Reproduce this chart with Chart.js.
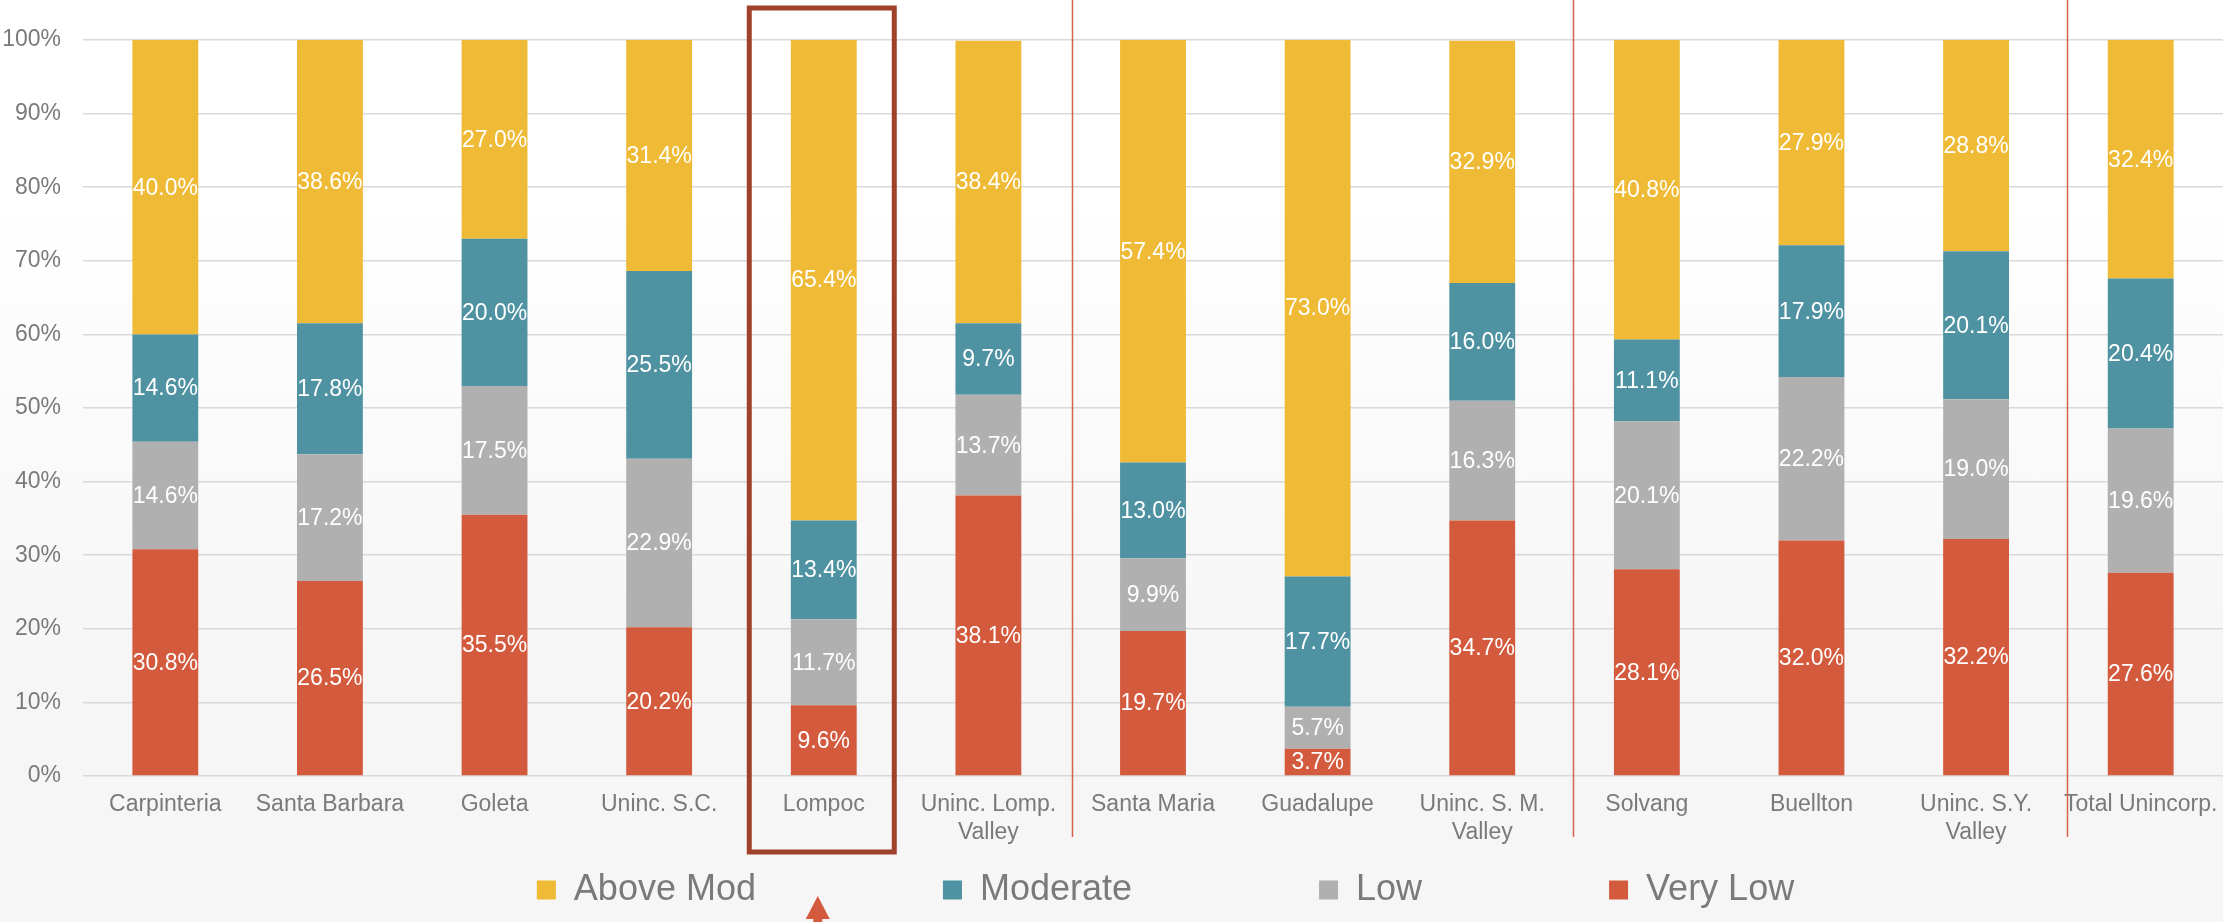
<!DOCTYPE html>
<html lang="en">
<head>
  <meta charset="UTF-8">
  <title>Housing Need by Income Category</title>
  <script src="https://cdn.jsdelivr.net/npm/chart.js@4.4.1/dist/chart.umd.min.js"></script>
  <style>
    html, body { margin: 0; padding: 0; }
    body {
      width: 2223px; height: 922px; overflow: hidden;
      background: linear-gradient(#ffffff 0%, #ffffff 22%, #f6f6f6 70%, #f6f6f6 100%);
    }
    #wrap { position: relative; width: 2223px; height: 922px; }
  </style>
</head>
<body>
  <div id="wrap"><canvas id="rhnaChart"></canvas></div>
  <script>
    // jurisdictions, left to right
    const categories = [
      'Carpinteria', 'Santa Barbara', 'Goleta', 'Uninc. S.C.', 'Lompoc',
      ['Uninc. Lomp.', 'Valley'], 'Santa Maria', 'Guadalupe', ['Uninc. S. M.', 'Valley'],
      'Solvang', 'Buellton', ['Uninc. S.Y.', 'Valley'], 'Total Unincorp.'
    ];

    // share of units per income level (%)
    const veryLow   = [30.8, 26.5, 35.5, 20.2,  9.6, 38.1, 19.7,  3.7, 34.7, 28.1, 32.0, 32.2, 27.6];
    const low       = [14.6, 17.2, 17.5, 22.9, 11.7, 13.7,  9.9,  5.7, 16.3, 20.1, 22.2, 19.0, 19.6];
    const moderate  = [14.6, 17.8, 20.0, 25.5, 13.4,  9.7, 13.0, 17.7, 16.0, 11.1, 17.9, 20.1, 20.4];
    const aboveMod  = [40.0, 38.6, 27.0, 31.4, 65.4, 38.4, 57.4, 73.0, 32.9, 40.8, 27.9, 28.8, 32.4];

    const yTicks = [0, 10, 20, 30, 40, 50, 60, 70, 80, 90, 100];

    // region separators (in category units on the x axis), highlighted jurisdiction
    const regionBreaks = [5.51, 8.55, 11.55];
    const highlighted = 4;

    const FONT = '"Liberation Sans", Arial, sans-serif';
    const GREY = '#7a7a7a';

    // white value labels in the middle of every segment
    const segmentLabels = {
      id: 'segmentLabels',
      afterDatasetsDraw(chart) {
        const ctx = chart.ctx;
        ctx.save();
        ctx.font = '23px ' + FONT;
        ctx.fillStyle = '#ffffff';
        ctx.textAlign = 'center';
        ctx.textBaseline = 'middle';
        chart.data.datasets.forEach((ds, i) => {
          chart.getDatasetMeta(i).data.forEach((bar, j) => {
            const p = bar.getProps(['x', 'y', 'base'], true);
            ctx.fillText(ds.data[j].toFixed(1) + '%', p.x, (p.y + p.base) / 2 + 1);
          });
        });
        ctx.restore();
      }
    };

    // region separators, the box round Lompoc and the arrow under it
    const callouts = {
      id: 'callouts',
      afterLayout(chart) {
        // nudge the legend row to where it sits in the original
        chart.legend.left += 54;
        chart.legend.right += 54;
      },
      afterDraw(chart) {
        const ctx = chart.ctx;
        const x = chart.scales.x;
        const area = chart.chartArea;
        ctx.save();

        ctx.strokeStyle = '#d8624a';
        ctx.lineWidth = 1.5;
        regionBreaks.forEach(v => {
          const px = Math.round(x.getPixelForValue(v)) + 0.5;
          ctx.beginPath();
          ctx.moveTo(px, 0);
          ctx.lineTo(px, area.bottom + 61);
          ctx.stroke();
        });

        const cx = x.getPixelForValue(highlighted) - 2;
        ctx.strokeStyle = '#a0412b';
        ctx.lineWidth = 5;
        ctx.strokeRect(cx - 72.5, 8, 145, area.bottom + 76 - 8);

        const ax = cx - 4;
        const tipY = area.bottom + 120;
        ctx.fillStyle = '#d35a3d';
        ctx.beginPath();
        ctx.moveTo(ax, tipY);
        ctx.lineTo(ax + 12, tipY + 23);
        ctx.lineTo(ax + 4.5, tipY + 23);
        ctx.lineTo(ax + 4.5, chart.height);
        ctx.lineTo(ax - 4.5, chart.height);
        ctx.lineTo(ax - 4.5, tipY + 23);
        ctx.lineTo(ax - 12, tipY + 23);
        ctx.closePath();
        ctx.fill();
        ctx.restore();
      }
    };

    const ctx = document.getElementById('rhnaChart').getContext('2d');
    new Chart(ctx, {
      type: 'bar',
      data: {
        labels: categories,
        datasets: [
          { label: 'Very Low',  data: veryLow,  backgroundColor: '#d35a3d' },
          { label: 'Low',       data: low,      backgroundColor: '#b0b0b0' },
          { label: 'Moderate',  data: moderate, backgroundColor: '#4f92a2' },
          { label: 'Above Mod', data: aboveMod, backgroundColor: '#efba35' }
        ]
      },
      options: {
        responsive: true,
        maintainAspectRatio: false,
        animation: false,
        layout: { padding: { top: 40, left: 0, right: 0, bottom: 4 } },
        datasets: {
          bar: { categoryPercentage: 1.0, barPercentage: 0.4, borderWidth: 0 }
        },
        scales: {
          x: {
            stacked: true,
            grid: { display: false, drawTicks: false },
            border: { display: false },
            ticks: {
              color: GREY,
              font: { family: FONT, size: 23, lineHeight: 1.2 },
              padding: 15,
              maxRotation: 0,
              autoSkip: false
            },
            afterFit(scale) {
              scale.height = 89;
              scale.paddingLeft = 0;
              scale.paddingRight = 0;
            }
          },
          y: {
            stacked: true,
            min: 0,
            max: 100,
            afterBuildTicks(scale) { scale.ticks = yTicks.map(v => ({ value: v })); },
            grid: { color: '#d9d9d9', lineWidth: 1.5, drawTicks: false },
            border: { display: false },
            ticks: {
              color: GREY,
              font: { family: FONT, size: 23 },
              padding: 22,
              callback: v => v + '%'
            },
            afterFit(scale) { scale.width = 83; }
          }
        },
        plugins: {
          legend: {
            position: 'bottom',
            reverse: true,
            labels: {
              color: GREY,
              font: { family: FONT, size: 36 },
              boxWidth: 19,
              boxHeight: 19,
              padding: 7,
              generateLabels(chart) {
                const items = Chart.defaults.plugins.legend.labels.generateLabels(chart);
                items.forEach(it => {
                  it.lineWidth = 0;
                  if (it.datasetIndex !== 0) it.text += '\u2003\u2003\u2003\u2003\u2003';
                });
                return items;
              }
            }
          },
          tooltip: { enabled: false }
        }
      },
      plugins: [segmentLabels, callouts]
    });
  </script>
</body>
</html>
